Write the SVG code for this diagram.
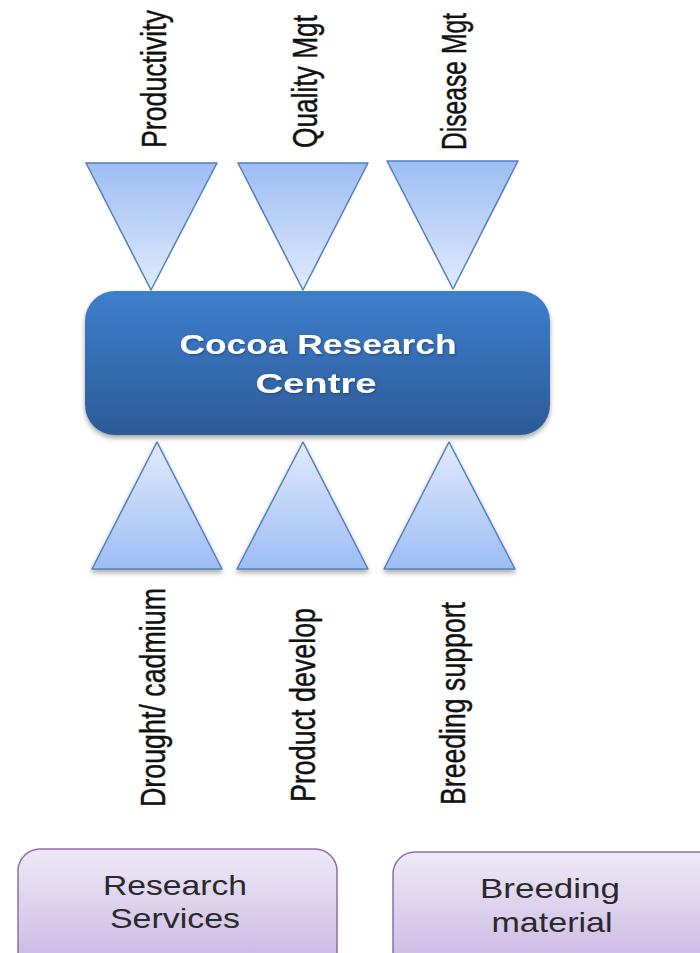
<svg xmlns="http://www.w3.org/2000/svg" width="700" height="953" viewBox="0 0 700 953">
<defs>
  <linearGradient id="gTriDown" x1="0" y1="0" x2="0" y2="1">
    <stop offset="0" stop-color="#9ebdf4"/>
    <stop offset="1" stop-color="#e0eafc"/>
  </linearGradient>
  <linearGradient id="gTriUp" x1="0" y1="0" x2="0" y2="1">
    <stop offset="0" stop-color="#e0eafc"/>
    <stop offset="1" stop-color="#9ebdf4"/>
  </linearGradient>
  <linearGradient id="gMain" x1="0" y1="0" x2="0" y2="1">
    <stop offset="0" stop-color="#3e7fcd"/>
    <stop offset="1" stop-color="#2c5a97"/>
  </linearGradient>
  <linearGradient id="gPurple" x1="0" y1="0" x2="0" y2="1">
    <stop offset="0" stop-color="#efe9f7"/>
    <stop offset="1" stop-color="#c6b2e0"/>
  </linearGradient>
  <filter id="shadow" x="-10%" y="-10%" width="120%" height="130%">
    <feDropShadow dx="0" dy="3" stdDeviation="2.5" flood-color="#000" flood-opacity="0.35"/>
  </filter>
  <filter id="txtShadow" x="-5%" y="-20%" width="110%" height="140%">
    <feDropShadow dx="1" dy="1" stdDeviation="0.8" flood-color="#1a2f55" flood-opacity="0.6"/>
  </filter>
</defs>
<style>
  .tri { stroke: #4f81bd; stroke-width: 1.5; stroke-linejoin: round; }
  .lbl { font-family: "Liberation Sans", Arial, sans-serif; font-size: 26.7px; fill: #111; stroke: #111; stroke-width: 0.35; }
  .main { font-family: "Liberation Sans", Arial, sans-serif; font-weight: bold; font-size: 27px; fill: #ffffff; text-anchor: middle; }
  .sub { stroke: #8a6fae; stroke-width: 1.5; fill: url(#gPurple); }
  .subt { font-family: "Liberation Sans", Arial, sans-serif; font-size: 28px; fill: #2a2a2a; text-anchor: middle; }
</style>

<g id="connectors"></g>

<g id="tri-productivity">
  <polygon class="tri" fill="url(#gTriDown)" points="86,163 217,163 151,290"/>
  <text class="lbl" transform="translate(166,148) scale(1.3,1) rotate(-90)" textLength="138" lengthAdjust="spacingAndGlyphs">Productivity</text>
</g>
<g id="tri-quality">
  <polygon class="tri" fill="url(#gTriDown)" points="238,163 368,163 303,290"/>
  <text class="lbl" transform="translate(317,148) scale(1.3,1) rotate(-90)" textLength="133" lengthAdjust="spacingAndGlyphs">Quality Mgt</text>
</g>
<g id="tri-disease">
  <polygon class="tri" fill="url(#gTriDown)" points="387,161 518,161 453,289"/>
  <text class="lbl" transform="translate(466,150) scale(1.3,1) rotate(-90)" textLength="137" lengthAdjust="spacingAndGlyphs">Disease Mgt</text>
</g>

<g id="main-node">
  <rect x="85" y="291" width="465" height="144" rx="30" ry="30" fill="url(#gMain)" filter="url(#shadow)"/>
  <g filter="url(#txtShadow)">
    <text class="main" x="318" y="354" textLength="277" lengthAdjust="spacingAndGlyphs">Cocoa Research</text>
    <text class="main" x="316" y="393" textLength="121" lengthAdjust="spacingAndGlyphs">Centre</text>
  </g>
</g>

<g id="tri-drought">
  <polygon class="tri" fill="url(#gTriUp)" points="157,442 222,569 92,569" filter="url(#shadow)"/>
  <text class="lbl" transform="translate(165,807) scale(1.3,1) rotate(-90)" textLength="219" lengthAdjust="spacingAndGlyphs">Drought/ cadmium</text>
</g>
<g id="tri-product">
  <polygon class="tri" fill="url(#gTriUp)" points="303,442 368,569 237,569" filter="url(#shadow)"/>
  <text class="lbl" transform="translate(315,802) scale(1.3,1) rotate(-90)" textLength="194" lengthAdjust="spacingAndGlyphs">Product develop</text>
</g>
<g id="tri-breeding">
  <polygon class="tri" fill="url(#gTriUp)" points="449,442 515,569 384,569" filter="url(#shadow)"/>
  <text class="lbl" transform="translate(465,805) scale(1.3,1) rotate(-90)" textLength="203" lengthAdjust="spacingAndGlyphs">Breeding support</text>
</g>

<g id="research-services">
  <rect class="sub" x="18" y="849" width="319" height="130" rx="22" ry="22"/>
  <text class="subt" x="175" y="895" textLength="144" lengthAdjust="spacingAndGlyphs">Research</text>
  <text class="subt" x="175" y="928" textLength="130" lengthAdjust="spacingAndGlyphs">Services</text>
</g>
<g id="breeding-material">
  <rect class="sub" x="393" y="852" width="330" height="130" rx="22" ry="22"/>
  <text class="subt" x="550" y="898" textLength="140" lengthAdjust="spacingAndGlyphs">Breeding</text>
  <text class="subt" x="552" y="932" textLength="121" lengthAdjust="spacingAndGlyphs">material</text>
</g>
</svg>
